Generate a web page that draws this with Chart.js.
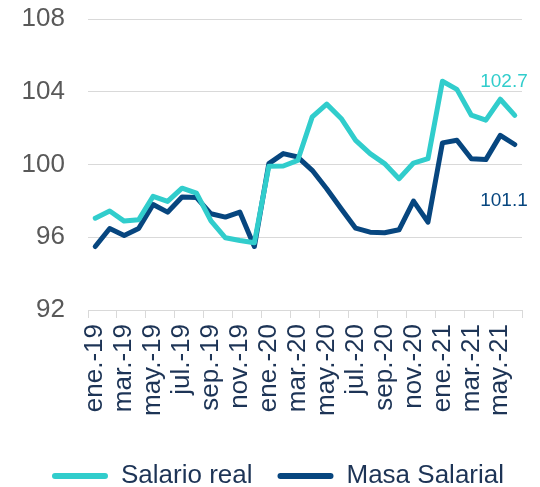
<!DOCTYPE html>
<html>
<head>
<meta charset="utf-8">
<script src="https://cdn.jsdelivr.net/npm/chart.js@4"></script>
<style>
  html, body { margin: 0; padding: 0; background: #ffffff; }
  #wrap { width: 540px; height: 487px; position: relative; }
</style>
</head>
<body>
<div id="wrap"><canvas id="grafico"></canvas></div>
<script>
const listaMeses = [
    'ene.-19', 'feb.-19', 'mar.-19', 'abr.-19', 'may.-19', 'jun.-19',
    'jul.-19', 'ago.-19', 'sep.-19', 'oct.-19', 'nov.-19', 'dic.-19',
    'ene.-20', 'feb.-20', 'mar.-20', 'abr.-20', 'may.-20', 'jun.-20',
    'jul.-20', 'ago.-20', 'sep.-20', 'oct.-20', 'nov.-20', 'dic.-20',
    'ene.-21', 'feb.-21', 'mar.-21', 'abr.-21', 'may.-21', 'jun.-21'
];

const salarioReal = [
    97.05, 97.44, 96.89, 96.96, 98.25, 97.97,
    98.7, 98.43, 96.9, 95.97, 95.82, 95.7,
    99.9, 99.92, 100.23, 102.62, 103.32, 102.53,
    101.33, 100.6, 100.05, 99.22, 100.08, 100.32,
    104.58, 104.13, 102.71, 102.44, 103.59, 102.7
];

const masaSalarial = [
    95.49, 96.48, 96.1, 96.48, 97.8, 97.38,
    98.21, 98.18, 97.29, 97.11, 97.38, 95.49,
    100.05, 100.6, 100.41, 99.68, 98.67, 97.57,
    96.5, 96.28, 96.25, 96.41, 97.99, 96.83,
    101.19, 101.33, 100.32, 100.27, 101.6, 101.1
];

const ticksY = [92, 96, 100, 104, 108];

const corTeal = '#31cdcc';
const corNavy = '#07467f';
const corTexto = '#1d3456';
const corGrade = '#d9d9d9';
const fonte = 'Arial, "Liberation Sans", sans-serif';

// rótulo do último valor de cada série
const pluginUltimoValor = {
    id: 'ultimoValor',
    afterDatasetsDraw(chart) {
        const ctx = chart.ctx;
        const deslocamentos = [-34, 56];
        chart.data.datasets.forEach((dataset, i) => {
            const meta = chart.getDatasetMeta(i);
            const ultimo = meta.data[meta.data.length - 1];
            const valor = dataset.data[dataset.data.length - 1];
            ctx.save();
            ctx.font = '19px ' + fonte;
            ctx.fillStyle = dataset.borderColor;
            ctx.textAlign = 'right';
            ctx.textBaseline = 'middle';
            ctx.fillText(valor.toFixed(1), ultimo.x + 13, ultimo.y + deslocamentos[i]);
            ctx.restore();
        });
    }
};

const contexto = document.getElementById('grafico').getContext('2d');

new Chart(contexto, {
    type: 'line',
    data: {
        labels: listaMeses,
        datasets: [
            {
                label: 'Salario real',
                data: salarioReal,
                borderColor: corTeal,
                backgroundColor: corTeal,
                borderWidth: 5,
                pointRadius: 0,
                tension: 0,
                borderJoinStyle: 'round',
                borderCapStyle: 'round'
            },
            {
                label: 'Masa Salarial',
                data: masaSalarial,
                borderColor: corNavy,
                backgroundColor: corNavy,
                borderWidth: 5,
                pointRadius: 0,
                tension: 0,
                borderJoinStyle: 'round',
                borderCapStyle: 'round'
            }
        ]
    },
    options: {
        responsive: true,
        maintainAspectRatio: false,
        animation: false,
        layout: {
            padding: { left: 22, right: 6, top: 19, bottom: -12 }
        },
        scales: {
            x: {
                offset: true,
                afterFit: (escala) => {
                    escala.height += 16;
                    escala.paddingLeft = 0;
                    escala.paddingRight = 18;
                },
                grid: {
                    offset: true,
                    drawOnChartArea: false,
                    drawTicks: true,
                    tickLength: 8,
                    color: (c) => (c.index === undefined || c.index % 2 === 0) ? corGrade : 'rgba(0,0,0,0)'
                },
                border: { display: true, color: corGrade, width: 1 },
                ticks: {
                    autoSkip: false,
                    maxRotation: 90,
                    minRotation: 90,
                    padding: 6,
                    color: corTexto,
                    font: { family: fonte, size: 26 },
                    callback: function (valor, indice) {
                        return indice % 2 === 0 ? this.getLabelForValue(valor) : '';
                    }
                }
            },
            y: {
                min: 92,
                max: 108,
                afterBuildTicks: (escala) => {
                    escala.ticks = ticksY.map((v) => ({ value: v }));
                },
                afterFit: (escala) => {
                    escala.width = 66;
                    escala.paddingTop = 0;
                    escala.paddingBottom = 0;
                },
                grid: {
                    color: corGrade,
                    lineWidth: 1,
                    drawTicks: false
                },
                border: { display: false },
                ticks: {
                    padding: 23,
                    color: '#595959',
                    font: { family: fonte, size: 26 }
                }
            }
        },
        plugins: {
            legend: {
                position: 'bottom',
                labels: {
                    color: corTexto,
                    font: { family: fonte, size: 26 },
                    boxWidth: 56,
                    boxHeight: 6,
                    padding: 25,
                    generateLabels: (chart) => chart.data.datasets.map((ds, i) => ({
                        text: ds.label,
                        fillStyle: ds.borderColor,
                        strokeStyle: ds.borderColor,
                        lineWidth: 0,
                        borderRadius: 3,
                        fontColor: corTexto,
                        datasetIndex: i,
                        hidden: false
                    }))
                }
            },
            tooltip: { enabled: false }
        }
    },
    plugins: [pluginUltimoValor]
});
</script>
</body>
</html>
